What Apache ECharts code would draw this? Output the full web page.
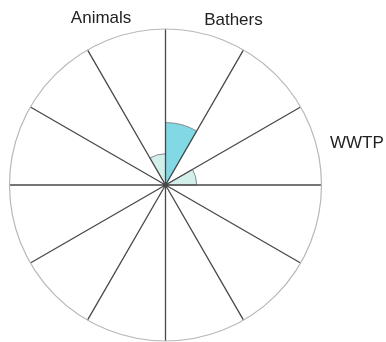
<!DOCTYPE html>
<html>
<head>
<meta charset="utf-8">
<script src="https://cdn.jsdelivr.net/npm/echarts@6/dist/echarts.min.js"></script>
<style>
  html, body { margin: 0; padding: 0; background: #fff; }
  #chart { width: 386px; height: 342px; }
</style>
</head>
<body>
<div id="chart"></div>
<script>
// Twelve 30° sectors, clockwise from twelve o'clock
const sectors = ['Bathers', '', 'WWTP', '', '', '', '', '', '', '', '', 'Animals'];
// Highlighted source
const highlightValues = [4, null, null, null, null, null, null, null, null, null, null, null];
// Other sources
const otherValues = [null, null, 2, null, null, null, null, null, null, null, null, 2];
const radiusMax = 10;

// Per-label nudges so the names sit beside their sectors
const labelPadding = {
  Bathers: [0, 0, 0, 52],
  Animals: [0, 45, 2, 0],
  WWTP: [6, 0, 0, 8]
};

const angleData = sectors.map(function (name) {
  if (!name) return name;
  return { value: name, textStyle: { padding: labelPadding[name] } };
});

const chart = echarts.init(document.getElementById('chart'), null, { renderer: 'canvas' });

chart.setOption({
  animation: false,
  polar: {
    center: [165.5, 185],
    radius: 156
  },
  angleAxis: {
    type: 'category',
    data: angleData,
    startAngle: 90,
    clockwise: true,
    z: 10,
    axisLine: { show: true, lineStyle: { color: '#b8b8b8', width: 1.2 } },
    axisTick: { show: false },
    splitLine: { show: true, lineStyle: { color: '#484848', width: 1.3 } },
    axisLabel: {
      interval: 0,
      margin: 6,
      color: '#222',
      fontSize: 17,
      fontFamily: 'Liberation Sans, Arial, sans-serif'
    }
  },
  radiusAxis: {
    min: 0,
    max: radiusMax,
    show: false,
    splitLine: { show: false }
  },
  series: [
    {
      type: 'bar',
      coordinateSystem: 'polar',
      stack: 'src',
      data: highlightValues,
      barCategoryGap: '0%',
      itemStyle: { color: '#82d8e4', borderColor: '#8a8a8a', borderWidth: 1 }
    },
    {
      type: 'bar',
      coordinateSystem: 'polar',
      stack: 'src',
      data: otherValues,
      barCategoryGap: '0%',
      itemStyle: { color: '#d2efec', borderColor: '#8a8a8a', borderWidth: 1 }
    }
  ]
});
</script>
</body>
</html>
